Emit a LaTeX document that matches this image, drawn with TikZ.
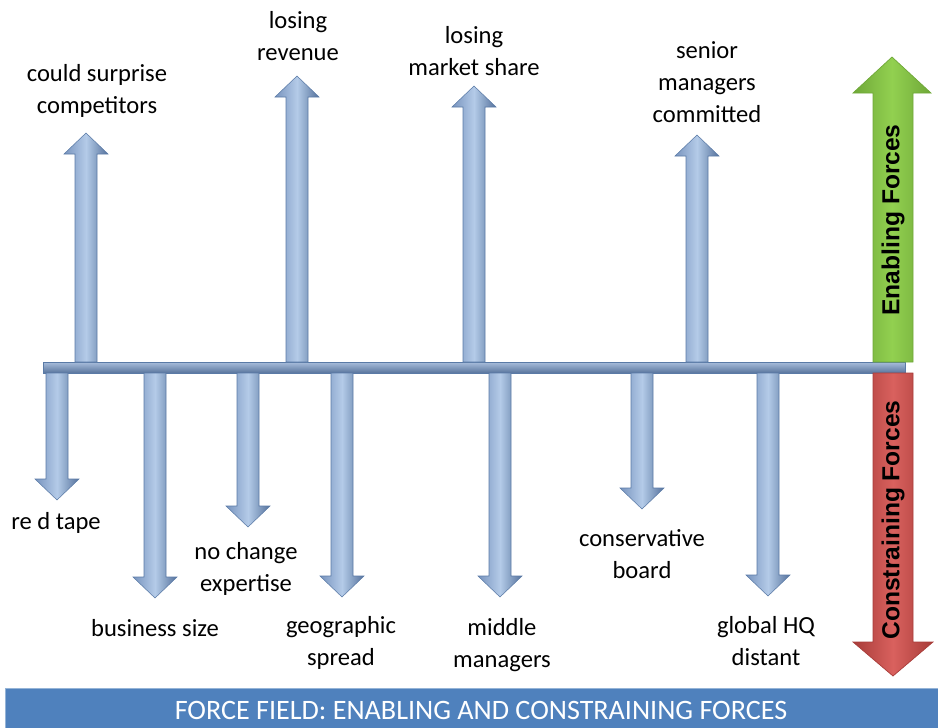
\documentclass[tikz,border=0pt]{standalone}
\usepackage{fontspec}
\setmainfont{Carlito}
\newfontfamily\headfont{Liberation Sans}
\usetikzlibrary{positioning}

\definecolor{forcelight}{HTML}{B4CBE8}
\definecolor{forcedark}{HTML}{7894BE}
\definecolor{forceshadow}{HTML}{55729C}
\definecolor{forceedge}{HTML}{5A7AA6}
\definecolor{barblue}{HTML}{6F92C4}
\definecolor{bannerblue}{HTML}{4F81BD}
\definecolor{enablegreen}{HTML}{92D050}
\definecolor{enabledark}{HTML}{6FA838}
\definecolor{constrainred}{HTML}{D9615E}
\definecolor{constraindark}{HTML}{A83C39}

% fat arrows: #1 = centre x, #2 = tip y (bar is at 362..373)
\newcommand{\upforce}[2]{%
  \draw[force] ({#1-11},362) -- ({#1-11},{#2+21}) -- ({#1-22},{#2+21})
    -- (#1,#2) -- ({#1+22},{#2+21}) -- ({#1+11},{#2+21}) -- ({#1+11},362) -- cycle;}
\newcommand{\downforce}[2]{%
  \draw[force] ({#1-11},373) -- ({#1-11},{#2-21}) -- ({#1-22},{#2-21})
    -- (#1,#2) -- ({#1+22},{#2-21}) -- ({#1+11},{#2-21}) -- ({#1+11},373) -- cycle;}

\begin{document}
\begin{tikzpicture}[
x=0.02cm, y=-0.02cm,
lbl/.style={font=\fontsize{14}{18}\selectfont, align=center, inner sep=0pt},
force/.style={draw=forceedge, line width=0.3pt, left color=forcedark, right color=forceshadow, middle color=forcelight},
side/.style={font=\headfont\bfseries\fontsize{14}{16}\selectfont, rotate=90, inner sep=0pt}
]
\useasboundingbox (0,0) rectangle (938,728);

% --- Barre centrale ---
\draw[forceedge, top color=barblue!60, bottom color=barblue!80!black] (43,362) rectangle (905,373);
\coordinate (barLeft) at (43,367);

% --- Forces favorables (vers le haut) ---
\upforce{86}{133}
\upforce{297}{76}
\upforce{474}{86}
\upforce{697}{135}

\node[lbl] (surprise) at (97,91) {could surprise\\competitors};
\node[lbl] (revenue) at (298,36) {losing\\revenue};
\node[lbl] (market) at (474,51) {losing\\market share};
\node[lbl] (senior) at (707,82) {senior\\managers\\committed};

% --- Forces contraignantes (vers le bas) ---
\downforce{57}{500}
\downforce{155}{598}
\downforce{248}{527}
\downforce{342}{597}
\downforce{500}{597}
\downforce{642}{509}
\downforce{768}{596}

\node[lbl] (redtape) at (56,523) {re d tape};
\node[lbl] (bizsize) at (155,628) {business size};
\node[lbl] (expertise) at (246,569) {no change\\expertise};
\node[lbl] (spread) at (341,643) {geographic\\spread};
\node[lbl] (middle) at (502,645) {middle\\managers};
\node[lbl] (board) at (642,554) {conservative\\board};
\node[lbl] (globalhq) at (766,641) {global HQ\\distant};

% --- Grandes fleches laterales ---
\draw[enabledark, left color=enabledark, right color=enabledark, middle color=enablegreen]
  (873,362) -- (873,93) -- (853,93) -- (892,57) -- (931,93) -- (913,93) -- (913,362) -- cycle;
\node[side] (enabling) at (893,220) {Enabling Forces};

\draw[constraindark, left color=constraindark, right color=constraindark, middle color=constrainred]
  (873,373) -- (873,642) -- (853,642) -- (893,676) -- (933,642) -- (913,642) -- (913,373) -- cycle;
\node[side] (constraining) at (893,520) {Constraining Forces};

% --- Bandeau du titre ---
\fill[bannerblue] (5,688) rectangle (938,728);
\draw[bannerblue!60!white] (5,728) |- (938,688);
\node[font=\fontsize{16}{18}\selectfont, text=white] (title) at (481,710) {FORCE FIELD: ENABLING AND CONSTRAINING FORCES};

\end{tikzpicture}
\end{document}
